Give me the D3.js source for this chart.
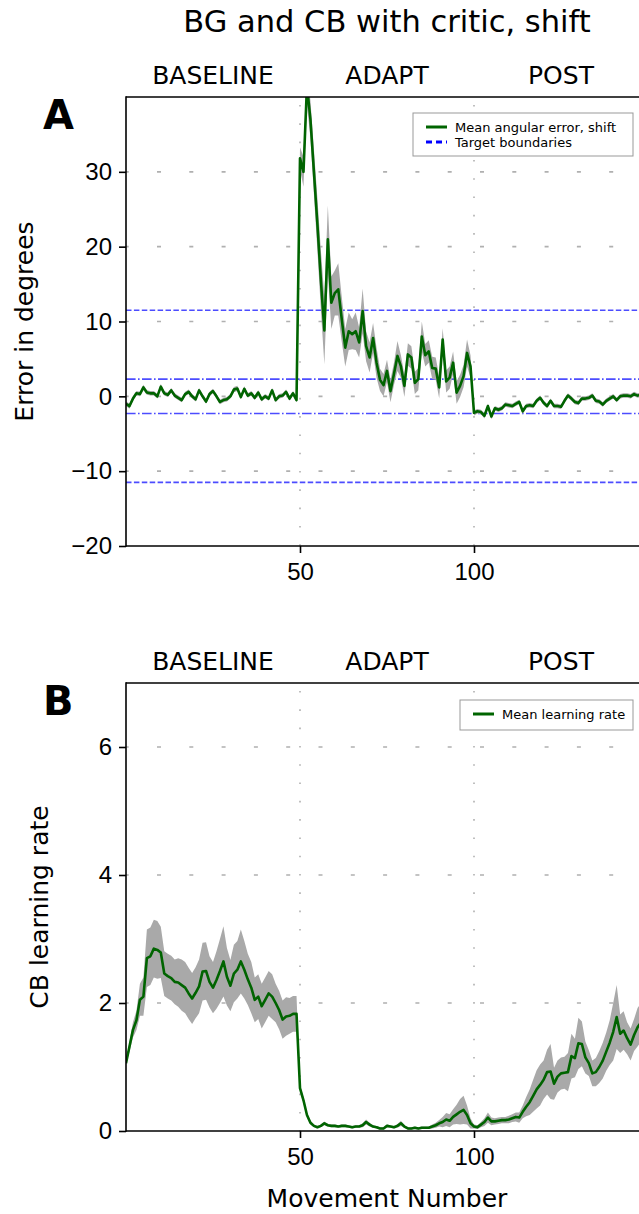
<!DOCTYPE html>
<html>
<head>
<meta charset="utf-8">
<script src="https://cdn.jsdelivr.net/npm/d3@7"></script>
<style>
  body { margin: 0; background: #fff; }
  svg { display: block; font-family: "DejaVu Sans", sans-serif; }
</style>
</head>
<body>
<svg id="chart" width="639" height="1214"></svg>
<script>
// phases of the experiment
const phases = ["BASELINE", "ADAPT", "POST"];
const phaseCenters = [25, 75, 125];
const xTicks = [50, 100];

// panel A: mean angular error (degrees) and its spread
const errorMean = [
  -1.0, -1.3, -0.3, 0.4, 0.3, 1.2, 0.5, 0.4, 0.4, 0.0,
  1.3, 0.4, 0.2, 0.8, 0.1, -0.2, -0.5, 0.3, 0.6, 0.0,
  -0.4, 0.8, 0.0, -0.7, 0.3, 0.7, 0.0, -0.75, -0.5, -0.4,
  0.0, 0.9, 1.05, -0.1, 1.0, 0.1, 0.4, -0.2, 0.5, -0.4,
  0.0, -0.3, 0.8, -0.5, 0.0, 0.1, 0.6, -0.3, 0.4, -0.5,
  31.8, 30.0, 41.5, 37, 30, 23, 15.5, 8.8, 21.0, 12.5,
  13.8, 14.3, 10.3, 6.5, 8.7, 8.3, 8.7, 7.2, 11.4, 6.7,
  5.2, 7.8, 4.5, 2.2, 1.5, 3.4, 0.7, 3.0, 5.4, 4.0,
  1.4, 5.6, 5.2, 1.8, 2.3, 8.0, 5.5, 6.0, 3.8, 3.7,
  1.2, 7.6, 2.0, 2.5, 4.5, 0.5, 1.4, 2.7, 5.8, 4.0,
  -2.2, -2.0, -2.1, -2.6, -1.3, -2.7, -1.6, -1.8, -1.6, -1.1,
  -1.2, -1.3, -1.0, -0.75, -2.0, -1.3, -1.2, -1.3, -0.6, -0.2,
  -0.85, -1.3, -0.6, -1.3, -1.3, -1.4, -0.6, 0.1, -0.3, -0.75,
  -0.9, -0.3, -0.3, -0.2, 0.1, -0.6, -0.7, -1.1, -0.6, -0.3,
  0.0, -0.5, 0.0, 0.1, 0.1, 0.0, 0.3, 0.1, 0.2, 0.1
];
const errorSd = [
  0.3, 0.35, 0.3, 0.3, 0.3, 0.35, 0.3, 0.3, 0.3, 0.3,
  0.35, 0.3, 0.3, 0.3, 0.3, 0.3, 0.3, 0.3, 0.3, 0.3,
  0.3, 0.3, 0.3, 0.3, 0.3, 0.3, 0.3, 0.3, 0.3, 0.3,
  0.3, 0.35, 0.35, 0.3, 0.35, 0.3, 0.3, 0.3, 0.3, 0.3,
  0.3, 0.3, 0.3, 0.3, 0.3, 0.3, 0.3, 0.3, 0.3, 0.3,
  1.5, 2, 2.5, 2.5, 3, 3.5, 4, 4.5, 4.5, 3.5,
  3, 3.5, 3, 2.5, 2.5, 2, 2.5, 2, 3, 2,
  2, 2, 2, 1.5, 1.5, 1.5, 1.5, 1.5, 2, 1.5,
  1.5, 1.5, 1.5, 1.5, 1.5, 2, 1.5, 1.5, 1.5, 1.5,
  1.5, 1.5, 1.5, 1.5, 1.5, 1.5, 1.5, 1.5, 1.8, 1.5,
  0.35, 0.3, 0.3, 0.35, 0.3, 0.35, 0.3, 0.3, 0.3, 0.3,
  0.3, 0.3, 0.3, 0.3, 0.35, 0.3, 0.3, 0.3, 0.3, 0.3,
  0.3, 0.3, 0.3, 0.3, 0.3, 0.3, 0.3, 0.3, 0.3, 0.3,
  0.3, 0.3, 0.3, 0.3, 0.3, 0.3, 0.3, 0.3, 0.3, 0.3,
  0.3, 0.3, 0.3, 0.3, 0.3, 0.3, 0.3, 0.3, 0.3, 0.3
];
const outerBoundary = 11.5;
const innerBoundary = 2.3;

// panel B: cerebellar learning rate and its spread
const lrMean = [
  1.06, 1.32, 1.58, 1.73, 2.05, 2.1, 2.7, 2.73, 2.85, 2.83,
  2.79, 2.46, 2.42, 2.39, 2.33, 2.32, 2.28, 2.24, 2.15, 2.07,
  2.16, 2.26, 2.49, 2.5, 2.33, 2.24, 2.36, 2.5, 2.65, 2.41,
  2.27, 2.46, 2.52, 2.65, 2.52, 2.37, 2.24, 2.05, 2.1, 1.95,
  2.05, 2.15, 2.1, 2.0, 1.89, 1.74, 1.79, 1.8, 1.83, 1.83,
  0.67, 0.48, 0.25, 0.13, 0.08, 0.06, 0.08, 0.12, 0.09, 0.08,
  0.08, 0.07, 0.08, 0.08, 0.07, 0.06, 0.07, 0.07, 0.09, 0.14,
  0.10, 0.07, 0.06, 0.04, 0.04, 0.08, 0.07, 0.06, 0.08, 0.12,
  0.07, 0.04, 0.04, 0.05, 0.04, 0.05, 0.05, 0.05, 0.07, 0.09,
  0.12, 0.14, 0.18, 0.16, 0.22, 0.26, 0.3, 0.33, 0.25, 0.12,
  0.07, 0.06, 0.10, 0.14, 0.21, 0.15, 0.15, 0.16, 0.17, 0.17,
  0.18, 0.2, 0.22, 0.21, 0.3, 0.38, 0.45, 0.55, 0.65, 0.72,
  0.8, 0.92, 0.93, 0.74, 0.85, 0.9, 0.91, 0.92, 1.17, 1.14,
  1.37, 1.36, 1.15, 1.06, 0.9, 0.92, 1.0, 1.1, 1.24, 1.38,
  1.55, 1.78, 1.52, 1.57, 1.45, 1.35, 1.5, 1.62, 1.7, 1.75
];
const lrSd = [
  0.02, 0.08, 0.12, 0.15, 0.25, 0.3, 0.45, 0.45, 0.45, 0.45,
  0.4, 0.35, 0.35, 0.35, 0.35, 0.38, 0.4, 0.4, 0.4, 0.4,
  0.4, 0.42, 0.45, 0.45, 0.4, 0.4, 0.45, 0.5, 0.55, 0.45,
  0.4, 0.45, 0.45, 0.5, 0.45, 0.4, 0.4, 0.35, 0.35, 0.35,
  0.35, 0.35, 0.35, 0.3, 0.3, 0.3, 0.3, 0.28, 0.28, 0.28,
  0.05, 0.05, 0.04, 0.03, 0.02, 0.02, 0.02, 0.03, 0.02, 0.02,
  0.02, 0.02, 0.02, 0.02, 0.02, 0.02, 0.02, 0.02, 0.03, 0.04,
  0.03, 0.02, 0.02, 0.02, 0.02, 0.02, 0.02, 0.02, 0.03, 0.04,
  0.02, 0.02, 0.02, 0.02, 0.02, 0.02, 0.02, 0.02, 0.03, 0.04,
  0.05, 0.08, 0.1, 0.1, 0.12, 0.15, 0.2, 0.22, 0.15, 0.08,
  0.03, 0.03, 0.04, 0.06, 0.08, 0.06, 0.05, 0.05, 0.05, 0.05,
  0.06, 0.06, 0.07, 0.08, 0.1, 0.15, 0.2, 0.25, 0.3, 0.32,
  0.3, 0.35, 0.43, 0.25, 0.25, 0.25, 0.25, 0.3, 0.35, 0.3,
  0.4, 0.35, 0.25, 0.2, 0.2, 0.22, 0.25, 0.28, 0.3, 0.35,
  0.45, 0.5, 0.3, 0.3, 0.25, 0.25, 0.25, 0.3, 0.3, 0.3
];

const svg = d3.select("#chart");
svg.append("rect").attr("width", 639).attr("height", 1214).attr("fill", "#fff");

const x = d3.scaleLinear().domain([0, 150]).range([126, 648]);

function drawPanel(cfg) {
  const g = svg.append("g");
  const y = d3.scaleLinear().domain(cfg.yDomain).range([cfg.bottom, cfg.top]);

  const clipId = "clip-" + cfg.letter;
  svg.append("clipPath").attr("id", clipId)
    .append("rect")
    .attr("x", x(0)).attr("y", cfg.top)
    .attr("width", x(150) - x(0)).attr("height", cfg.bottom - cfg.top);

  // grid
  g.selectAll(".hgrid")
    .data(cfg.yTicks.filter(d => d !== cfg.yDomain[0]))
    .join("line")
    .attr("x1", x(0)).attr("x2", x(150))
    .attr("y1", d => y(d)).attr("y2", d => y(d))
    .attr("stroke", "#b0b0b0").attr("stroke-width", 1.6)
    .attr("stroke-dasharray", "4,28.3")
    .attr("stroke-dashoffset", -31);
  g.selectAll(".vgrid")
    .data(xTicks)
    .join("line")
    .attr("x1", d => x(d)).attr("x2", d => x(d))
    .attr("y1", cfg.top).attr("y2", cfg.bottom)
    .attr("stroke", "#b0b0b0").attr("stroke-width", 1.6)
    .attr("stroke-dasharray", "1.6,16.7")
    .attr("stroke-dashoffset", -8);

  const plot = g.append("g").attr("clip-path", `url(#${clipId})`);

  if (cfg.boundaries) {
    const bounds = [
      { v: outerBoundary, dash: "5.5,2.4" },
      { v: -outerBoundary, dash: "5.5,2.4" },
      { v: innerBoundary, dash: "9.6,2.4,1.6,2.4" },
      { v: -innerBoundary, dash: "9.6,2.4,1.6,2.4" }
    ];
    plot.selectAll(".bound")
      .data(bounds)
      .join("line")
      .attr("x1", x(0)).attr("x2", x(150))
      .attr("y1", d => y(d.v)).attr("y2", d => y(d.v))
      .attr("stroke", "#0000ff").attr("stroke-opacity", 0.7)
      .attr("stroke-width", 1.6)
      .attr("stroke-dasharray", d => d.dash);
  }

  const area = d3.area()
    .x((d, i) => x(i))
    .y0((d, i) => y(d - cfg.sd[i]))
    .y1((d, i) => y(d + cfg.sd[i]));
  plot.append("path")
    .datum(cfg.mean)
    .attr("fill", "#a9a9a9")
    .attr("d", area);

  const line = d3.line().x((d, i) => x(i)).y(d => y(d));
  plot.append("path")
    .datum(cfg.mean)
    .attr("fill", "none")
    .attr("stroke", "#006400")
    .attr("stroke-width", 2.6)
    .attr("stroke-linejoin", "round")
    .attr("d", line);

  // spines
  g.append("line").attr("x1", x(0)).attr("x2", x(0)).attr("y1", cfg.top - 0.8).attr("y2", cfg.bottom + 0.8)
    .attr("stroke", "#000").attr("stroke-width", 1.6);
  g.append("line").attr("x1", x(0)).attr("x2", x(150)).attr("y1", cfg.top).attr("y2", cfg.top)
    .attr("stroke", "#000").attr("stroke-width", 1.6);
  g.append("line").attr("x1", x(0)).attr("x2", x(150)).attr("y1", cfg.bottom).attr("y2", cfg.bottom)
    .attr("stroke", "#000").attr("stroke-width", 1.6);

  const yAxis = g.append("g")
    .attr("transform", `translate(${x(0)},0)`)
    .attr("font-size", 24)
    .attr("font-family", "DejaVu Sans")
    .call(d3.axisLeft(y).tickValues(cfg.yTicks).tickFormat(d3.format("d")).tickSize(7).tickPadding(7));
  yAxis.select(".domain").remove();
  yAxis.selectAll(".tick line").attr("stroke-width", 1.6);
  yAxis.selectAll("text").attr("font-size", 24).attr("fill", "#000");

  const xAxis = g.append("g")
    .attr("transform", `translate(0,${cfg.bottom})`)
    .attr("font-size", 24)
    .attr("font-family", "DejaVu Sans")
    .call(d3.axisBottom(x).tickValues(xTicks).tickSize(7).tickPadding(10));
  xAxis.select(".domain").remove();
  xAxis.selectAll(".tick line").attr("stroke-width", 1.6);
  xAxis.selectAll("text").attr("font-size", 24).attr("fill", "#000");

  // phase labels
  g.selectAll(".phase")
    .data(phases)
    .join("text")
    .attr("x", (d, i) => x(phaseCenters[i]))
    .attr("y", cfg.top - 13)
    .attr("text-anchor", "middle")
    .attr("font-size", 25)
    .text(d => d);

  // panel letter
  g.append("text")
    .attr("x", 43).attr("y", cfg.top + 32)
    .attr("font-size", 40).attr("font-weight", "bold")
    .text(cfg.letter);

  // y label
  g.append("text")
    .attr("transform", `translate(${cfg.yLabelX},${(cfg.top + cfg.bottom) / 2}) rotate(-90)`)
    .attr("text-anchor", "middle")
    .attr("font-size", 25)
    .text(cfg.yLabel);

  // legend
  const lg = g.append("g");
  lg.append("rect")
    .attr("x", cfg.legend.x).attr("y", cfg.legend.y)
    .attr("width", cfg.legend.w).attr("height", cfg.legend.h)
    .attr("fill", "#fff").attr("stroke", "#999").attr("stroke-width", 1);
  cfg.legend.items.forEach((it, i) => {
    const yy = cfg.legend.y + 14 + i * 15;
    lg.append("line")
      .attr("x1", cfg.legend.x + 13).attr("x2", cfg.legend.x + 34)
      .attr("y1", yy).attr("y2", yy)
      .attr("stroke", it.color).attr("stroke-width", it.width)
      .attr("stroke-dasharray", it.dash || null);
    lg.append("text")
      .attr("x", cfg.legend.x + 42).attr("y", yy + 4.5)
      .attr("font-size", 13)
      .text(it.label);
  });
}

svg.append("text")
  .attr("x", x(75)).attr("y", 32)
  .attr("text-anchor", "middle")
  .attr("font-size", 30.5)
  .text("BG and CB with critic, shift");

drawPanel({
  letter: "A", top: 97, bottom: 546,
  yDomain: [-20, 40], yTicks: [-20, -10, 0, 10, 20, 30],
  mean: errorMean, sd: errorSd, boundaries: true,
  yLabel: "Error in degrees", yLabelX: 33,
  legend: {
    x: 413, y: 113, w: 220, h: 43,
    items: [
      { label: "Mean angular error, shift", color: "#006400", width: 3 },
      { label: "Target boundaries", color: "#0000ff", width: 3, dash: "6,4" }
    ]
  }
});

drawPanel({
  letter: "B", top: 683, bottom: 1131,
  yDomain: [0, 7], yTicks: [0, 2, 4, 6],
  mean: lrMean, sd: lrSd, boundaries: false,
  yLabel: "CB learning rate", yLabelX: 48,
  legend: {
    x: 460, y: 700, w: 173, h: 30,
    items: [
      { label: "Mean learning rate", color: "#006400", width: 3 }
    ]
  }
});

svg.append("text")
  .attr("x", x(75)).attr("y", 1207)
  .attr("text-anchor", "middle")
  .attr("font-size", 25)
  .text("Movement Number");
</script>
</body>
</html>
